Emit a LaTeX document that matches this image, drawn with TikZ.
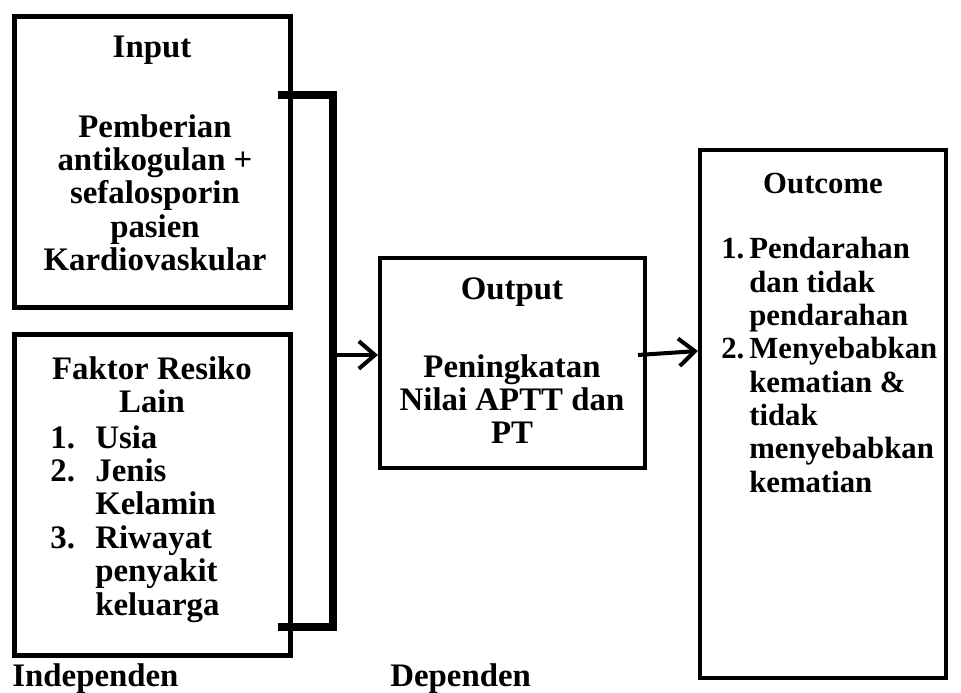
\documentclass[tikz,border=0pt]{standalone}
\usepackage{fontspec}
\setmainfont{Liberation Serif}
\usetikzlibrary{arrows.meta,fit}
\tikzstyle{box}=[draw=black,line width=2.8pt,inner sep=0pt]
\tikzstyle{txt}=[font=\bfseries\fontsize{18.7}{19}\selectfont,inner sep=0pt,align=center]
\tikzstyle{lst}=[font=\bfseries\fontsize{18.7}{19}\selectfont,inner sep=0pt,align=left,anchor=north west]
\tikzstyle{small}=[font=\bfseries\fontsize{17.5}{19}\selectfont]
\tikzstyle{brace}=[line width=4.5pt]
\tikzstyle{arr}=[line width=2.3pt,-{Straight Barb[length=0.32cm,width=0.55cm]}]
\newcommand{\numa}[1]{\makebox[0.9cm][l]{#1}}
\newcommand{\numb}[1]{\makebox[0.56cm][l]{#1}}

\begin{document}
\begin{tikzpicture}[x=0.02cm,y=-0.02cm]
	\useasboundingbox (0,0) rectangle (961,693);
	\node[box,fit={(14.5,16.5) (290.5,307.5)}] (inputbox) {};
	\node[box,fit={(14.5,334.5) (290.5,655.5)}] (faktorbox) {};
	\node[box,line width=2.3pt,fit={(380,258) (645,468)}] (outputbox) {};
	\node[box,line width=2.3pt,fit={(700,150) (946,678)}] (outcomebox) {};

	\node[txt,anchor=base] (inputtitle) at (152,57) {Input};
	\node[txt,anchor=north] (inputtext) at (155,114) {Pemberian\\antikogulan +\\sefalosporin\\pasien\\Kardiovaskular};

	\node[txt,anchor=north] (faktortitle) at (152,356) {Faktor Resiko\\Lain};
	\node[lst] (faktorlist) at (50,425) {\numa{1.}Usia\\\numa{2.}Jenis\\\numa{}Kelamin\\\numa{3.}Riwayat\\\numa{}penyakit\\\numa{}keluarga};

	\node[txt,anchor=base] (outputtitle) at (512,299) {Output};
	\node[txt,anchor=north] (outputtext) at (512,354) {Peningkatan\\Nilai APTT dan\\PT};

	\node[txt,small,anchor=base] (outcometitle) at (823,193) {Outcome};
	\node[lst,small] (outcomelist) at (721,237) {\numb{1.}Pendarahan\\\numb{}dan tidak\\\numb{}pendarahan\\\numb{2.}Menyebabkan\\\numb{}kematian \&\\\numb{}tidak\\\numb{}menyebabkan\\\numb{}kematian};

	\node[txt,anchor=base west] (indep) at (12,686) {Independen};
	\node[txt,anchor=base west] (dep) at (390,686) {Dependen};

	\coordinate (brtop) at (278,95);
	\coordinate (brbot) at (278,627);
	\coordinate (brmid) at (333,355);
	\coordinate (outstart) at (638,355);
	\draw[brace] (brtop) -- (brtop -| brmid) -- (brbot -| brmid) -- (brbot);
	\draw[arr] (brmid) -- (brmid -| outputbox.west);
	\draw[arr] (outstart) -- ([yshift=0.08cm]outstart -| outcomebox.west);
\end{tikzpicture}
\end{document}
